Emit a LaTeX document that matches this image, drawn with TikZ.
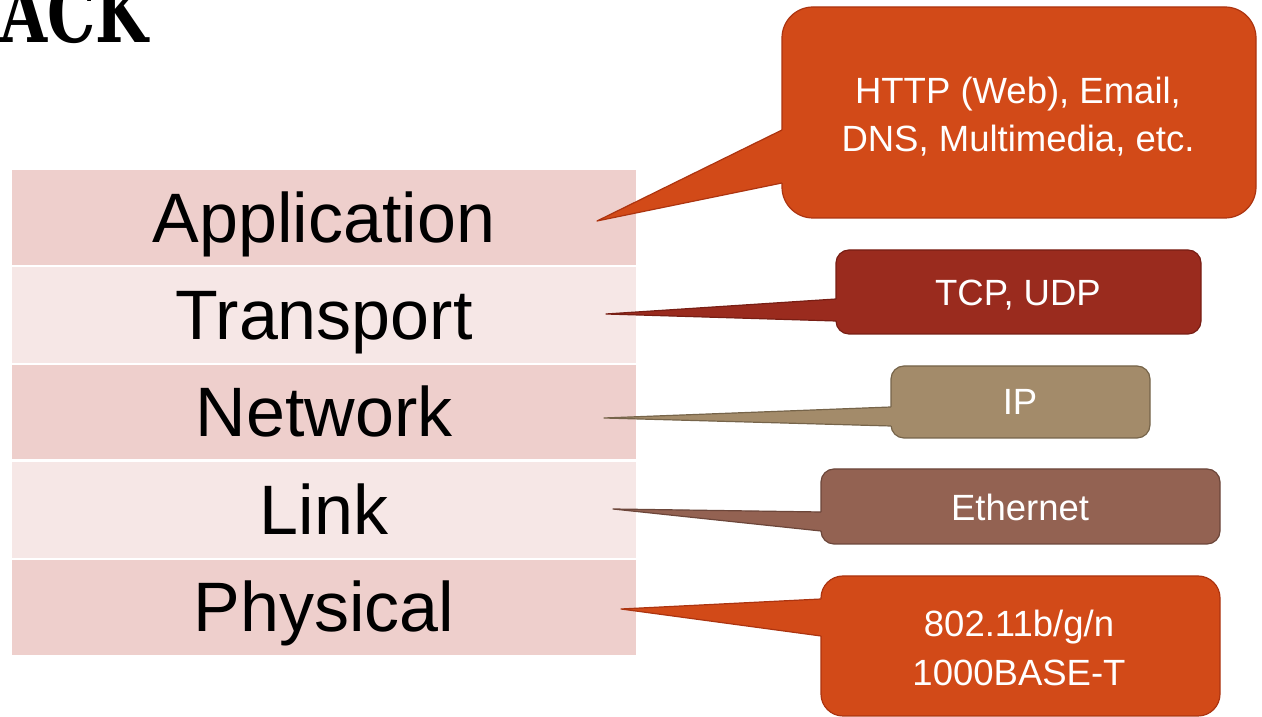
\documentclass[tikz,border=0pt]{standalone}
\usepackage{fontspec}
\setmainfont{Liberation Sans}
\newfontfamily\titlefont{DejaVu Serif}

% layer band colours
\definecolor{bandDark}{RGB}{238,207,204}
\definecolor{bandLight}{RGB}{246,231,230}
% bubble colours and their outlines
\definecolor{orng}{RGB}{210,74,24}
\definecolor{orngD}{RGB}{172,52,16}
\definecolor{maroon}{RGB}{154,43,30}
\definecolor{maroonD}{RGB}{120,30,20}
\definecolor{khaki}{RGB}{163,139,106}
\definecolor{khakiD}{RGB}{118,100,74}
\definecolor{umber}{RGB}{147,98,82}
\definecolor{umberD}{RGB}{108,70,58}

% pointer of a speech bubble: #1 left edge x, #2 upper base y, #3 lower base y,
% #4 tip coordinate, #5 fill colour (outline colour is #5D)
\newcommand\bubblepointer[5]{%
  \fill[#5] (#1,#2) -- (#4) -- (#1,#3) -- ({#1+3},#3) -- ({#1+3},#2) -- cycle;
  \draw[#5D, line width=1.2pt, line join=round] (#1,#2) -- (#4) -- (#1,#3);
}

\begin{document}
\begin{tikzpicture}[x=1pt,y=1pt,
  band/.style={anchor=south west, inner sep=0pt, outer sep=0pt,
    minimum width=624pt, minimum height=95pt},
  bandtext/.style={anchor=base, inner sep=0pt, text=black,
    font=\fontsize{70}{84}\selectfont},
  bubble/.style={inner sep=0pt, outer sep=0pt, line width=1.2pt},
  bubbletext/.style={anchor=base, inner sep=0pt, text=white,
    font=\fontsize{36.5}{48}\selectfont}]
\useasboundingbox (0,0) rectangle (1262,717);
\clip (0,0) rectangle (1262,717);

% slide title, running off the top edge
\node[anchor=base west, inner sep=0pt, xscale=0.74, transform shape,
  font=\titlefont\bfseries\fontsize{82}{82}\selectfont] (ttl) at (0,674) {ACK};

% protocol layers
\node[band, fill=bandDark,  minimum height=95pt] (app)  at (12,452) {};
\node[band, fill=bandLight, minimum height=96pt] (tra)  at (12,354) {};
\node[band, fill=bandDark,  minimum height=94pt] (net)  at (12,258) {};
\node[band, fill=bandLight, minimum height=96pt] (lnk)  at (12,159) {};
\node[band, fill=bandDark,  minimum height=95pt] (phy)  at (12,62)  {};

\node[bandtext] (appL) at (324,474) {Application};
\node[bandtext] (traL) at (324,377) {Transport};
\node[bandtext] (netL) at (324,280) {Network};
\node[bandtext] (lnkL) at (324,182) {Link};
\node[bandtext] (phyL) at (324,85)  {Physical};

% pointer tips
\coordinate (appT) at (597,496);
\coordinate (traT) at (606,403);
\coordinate (netT) at (604,299);
\coordinate (lnkT) at (613,208);
\coordinate (phyT) at (621,108);

% speech bubbles
\node[bubble, fill=orng, draw=orngD, rounded corners=31pt,
  minimum width=474pt, minimum height=211pt] (appB) at (1019,604.5) {};
\bubblepointer{782}{587}{534}{appT}{orng}
\node[bubbletext] (appB1) at (1018,613) {HTTP (Web), Email,};
\node[bubbletext] (appB2) at (1018,565) {DNS, Multimedia, etc.};

\node[bubble, fill=maroon, draw=maroonD, rounded corners=13pt,
  minimum width=365pt, minimum height=84pt] (traB) at (1018.5,425) {};
\bubblepointer{836}{418}{396}{traT}{maroon}
\node[bubbletext] (traB1) at (1018,411) {TCP, UDP};

\node[bubble, fill=khaki, draw=khakiD, rounded corners=13pt,
  minimum width=259pt, minimum height=72pt] (netB) at (1020.5,315) {};
\bubblepointer{891}{310}{291}{netT}{khaki}
\node[bubbletext] (netB1) at (1020,302) {IP};

\node[bubble, fill=umber, draw=umberD, rounded corners=13pt,
  minimum width=399pt, minimum height=75pt] (lnkB) at (1020.5,210.5) {};
\bubblepointer{821}{205}{186}{lnkT}{umber}
\node[bubbletext] (lnkB1) at (1020,196) {Ethernet};

\node[bubble, fill=orng, draw=orngD, rounded corners=22pt,
  minimum width=399pt, minimum height=140pt] (phyB) at (1020.5,71) {};
\bubblepointer{821}{118}{81}{phyT}{orng}
\node[bubbletext] (phyB1) at (1019,80) {802.11b/g/n};
\node[bubbletext] (phyB2) at (1019,31) {1000BASE-T};
\end{tikzpicture}
\end{document}
